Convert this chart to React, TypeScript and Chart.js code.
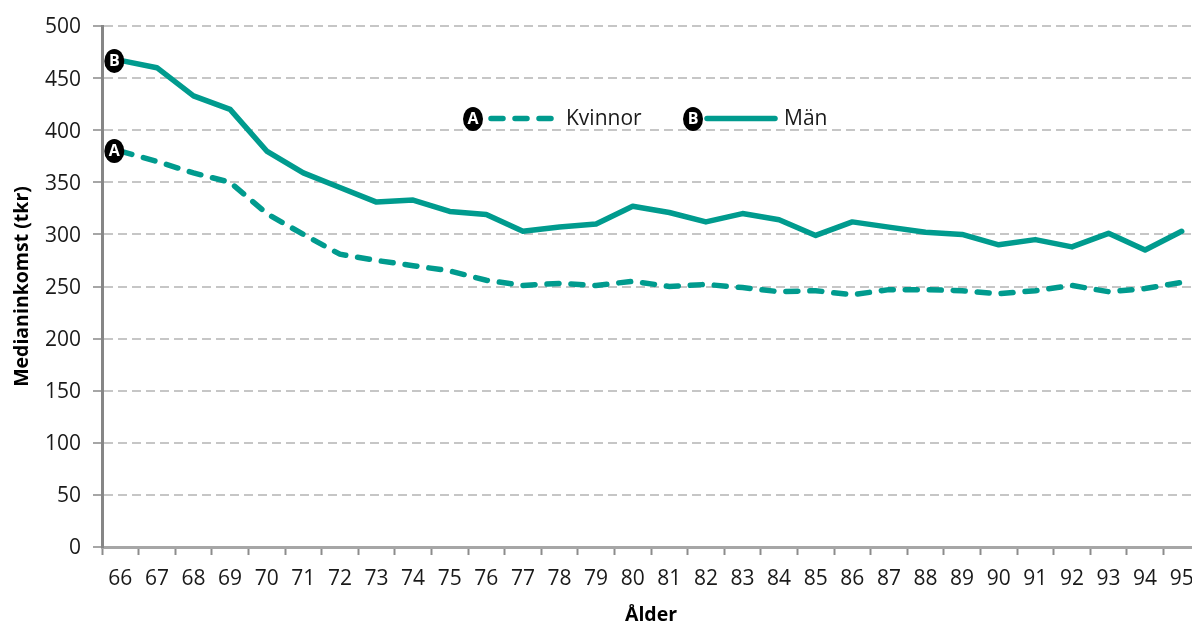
import React, { useEffect, useRef } from "react";
import { Chart, registerables } from "chart.js";

Chart.register(...registerables);

const ages = ["66","67","68","69","70","71","72","73","74","75","76","77","78","79","80","81","82","83","84","85","86","87","88","89","90","91","92","93","94","95"];
const kvinnor = [380,370,359,350,320,300,281,275,270,265,256,251,253,251,255,250,252,249,245,246,242,247,247,246,243,246,251,245,248,254];
const man = [467,460,433,420,380,359,345,331,333,322,319,303,307,310,327,321,312,320,314,299,312,307,302,300,290,295,288,301,285,303];
const seriesNames = ["Kvinnor", "Män"];
const badges = ["A", "B"];
const yTicks = [0,50,100,150,200,250,300,350,400,450,500];

const TEAL = "#009B8E";
const FONT = '"Open Sans", sans-serif';

function badge(ctx: CanvasRenderingContext2D, x: number, y: number, t: string) {
  ctx.save();
  ctx.fillStyle = "#000";
  ctx.beginPath();
  ctx.ellipse(x, y, 10, 12, 0, 0, Math.PI * 2);
  ctx.fill();
  ctx.fillStyle = "#fff";
  ctx.font = `bold 16px ${FONT}`;
  ctx.textAlign = "center";
  ctx.textBaseline = "middle";
  ctx.fillText(t, x, y + 0.5);
  ctx.restore();
}

const annotate = {
  id: "annotate",
  afterDatasetsDraw(chart: any) {
    const { ctx, scales } = chart;
    const x0 = scales.x.getPixelForValue(0) - 6;
    badge(ctx, x0, scales.y.getPixelForValue(kvinnor[0]), badges[0]);
    badge(ctx, x0, scales.y.getPixelForValue(man[0]) + 0.5, badges[1]);

    ctx.save();
    ctx.strokeStyle = TEAL;
    ctx.lineWidth = 5.5;
    ctx.lineCap = "round";
    ctx.setLineDash([12, 12]);
    ctx.beginPath();
    ctx.moveTo(491, 118.5);
    ctx.lineTo(552, 118.5);
    ctx.stroke();
    ctx.setLineDash([]);
    ctx.beginPath();
    ctx.moveTo(707, 118.5);
    ctx.lineTo(775, 118.5);
    ctx.stroke();
    ctx.fillStyle = "#1a1a1a";
    ctx.font = `21px ${FONT}`;
    ctx.textAlign = "left";
    ctx.textBaseline = "middle";
    ctx.fillText(seriesNames[0], 566, 119.5);
    ctx.fillText(seriesNames[1], 784, 119.5);
    ctx.restore();
    badge(ctx, 473, 119, badges[0]);
    badge(ctx, 693, 119, badges[1]);
  },
};

export default function App() {
  const ref = useRef<HTMLCanvasElement>(null);
  useEffect(() => {
    const chart = new Chart(ref.current!, {
      type: "line",
      data: {
        labels: ages,
        datasets: [
          { label: seriesNames[0], data: kvinnor, borderColor: TEAL, borderWidth: 5.5, borderDash: [12, 12], borderCapStyle: "round", pointRadius: 0, tension: 0, clip: false },
          { label: seriesNames[1], data: man, borderColor: TEAL, borderWidth: 5.5, borderCapStyle: "round", borderJoinStyle: "round", pointRadius: 0, tension: 0, clip: false },
        ],
      },
      options: {
        responsive: false,
        animation: false,
        devicePixelRatio: 1,
        layout: { padding: { top: 26, left: 0, right: 0, bottom: 0 } },
        plugins: { legend: { display: false }, tooltip: { enabled: false } },
        scales: {
          x: {
            type: "category",
            offset: true,
            afterFit: (s: any) => { s.height = 76; s.paddingRight = 0; s.paddingLeft = 0; },
            grid: { display: true, drawOnChartArea: false, offset: true, tickLength: 8, tickColor: "#8c8c8c", tickWidth: 2 },
            border: { color: "#a6a6a6", width: 3 },
            ticks: { color: "#1a1a1a", font: { family: FONT, size: 21 }, padding: 11, maxRotation: 0, autoSkip: false },
            title: { display: true, text: "Ålder", color: "#000", font: { family: FONT, size: 19.5, weight: "bold", lineHeight: 1 }, padding: { top: 6, bottom: -2 } },
          },
          y: {
            min: 0,
            max: 500,
            afterFit: (s: any) => { s.width = 102; s.paddingTop = 0; s.paddingBottom = 0; },
            afterBuildTicks: (s: any) => { s.ticks = yTicks.map((value) => ({ value })); },
            grid: { color: "#c6c6c6", lineWidth: 2, tickLength: 9, tickColor: "#a6a6a6", tickWidth: 2, tickBorderDash: [] },
            border: { color: "#868686", width: 3, dash: [9, 5] as any, z: 1 },
            ticks: { color: "#1a1a1a", font: { family: FONT, size: 21 }, padding: 12, labelOffset: 1.5 },
            title: { display: true, text: "Medianinkomst (tkr)", color: "#000", font: { family: FONT, size: 19.5, weight: "bold", lineHeight: 1 }, padding: { top: 13, bottom: 0 } },
          },
        },
      },
      plugins: [annotate],
    } as any);
    return () => chart.destroy();
  }, []);
  return (
    <div style={{ position: "fixed", left: 0, top: 0, width: 1192, height: 623, overflow: "hidden", background: "#fff" }}>
      <canvas ref={ref} width={1200} height={623} style={{ display: "block" }} />
    </div>
  );
}
